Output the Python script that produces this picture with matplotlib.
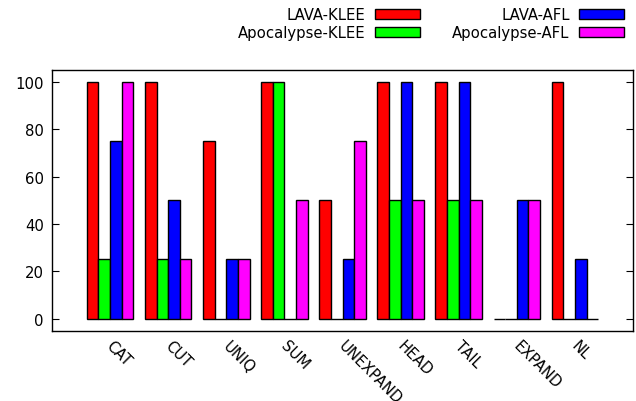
import matplotlib.pyplot as plt
import matplotlib.transforms as mtransforms
import numpy as np

# programs on the x axis
PROGRAMS = ['CAT', 'CUT', 'UNIQ', 'SUM', 'UNEXPAND', 'HEAD', 'TAIL',
            'EXPAND', 'NL']

# one list per tool combination
lava_klee = [100, 100, 75, 100, 50, 100, 100, 0, 100]
apoc_klee = [25, 25, 0, 100, 0, 50, 50, 0, 0]
lava_afl = [75, 50, 25, 0, 25, 100, 100, 50, 25]
apoc_afl = [100, 25, 25, 50, 75, 50, 50, 50, 0]

SERIES = [('LAVA-KLEE', lava_klee, '#ff0000'),
          ('Apocalypse-KLEE', apoc_klee, '#00ff00'),
          ('LAVA-AFL', lava_afl, '#0000ff'),
          ('Apocalypse-AFL', apoc_afl, '#ff00ff')]

FS = 10.7

def main():
    fig = plt.figure(figsize=(6.36, 4.02), dpi=100)
    ax = fig.add_axes([52/636, 1 - 331.5/402, 581/636, 260.5/402])

    x = np.arange(len(PROGRAMS))
    width = 0.2
    handles = []
    for i, (name, vals, col) in enumerate(SERIES):
        h = ax.bar(x + (i - 1.5) * width, vals, width, color=col,
                   edgecolor='black', linewidth=1.0, label=name)
        handles.append(h)

    ax.set_xlim(-1, 9)
    ax.set_ylim(-5, 105)
    ax.set_yticks([0, 20, 40, 60, 80, 100])
    ax.tick_params(axis='y', direction='in', right=True, length=5,
                   labelsize=FS, pad=6)
    ax.set_xticks(x)
    ax.set_xticklabels(PROGRAMS, rotation=-45, ha='left', va='top',
                       rotation_mode='anchor', fontsize=FS)
    ax.tick_params(axis='x', length=0, pad=8)
    # nudge rotated labels a bit right and up, like gnuplot does
    shift = mtransforms.ScaledTranslation(4/100, 4/100, fig.dpi_scale_trans)
    for lab in ax.get_xticklabels():
        lab.set_transform(lab.get_transform() + shift)
    for s in ax.spines.values():
        s.set_linewidth(1.0)

    # gnuplot style key: label then swatch, two columns
    fig.legend(handles, [s[0] for s in SERIES], ncol=2,
               loc='upper right', bbox_to_anchor=(632/636, 1.0),
               frameon=False, markerfirst=False, fontsize=FS,
               handlelength=3.0, handleheight=0.6, columnspacing=2.2,
               labelspacing=0.2, handletextpad=0.65, borderaxespad=0.15)

    fig.savefig('out.png', dpi=100)

if __name__ == '__main__':
    main()
